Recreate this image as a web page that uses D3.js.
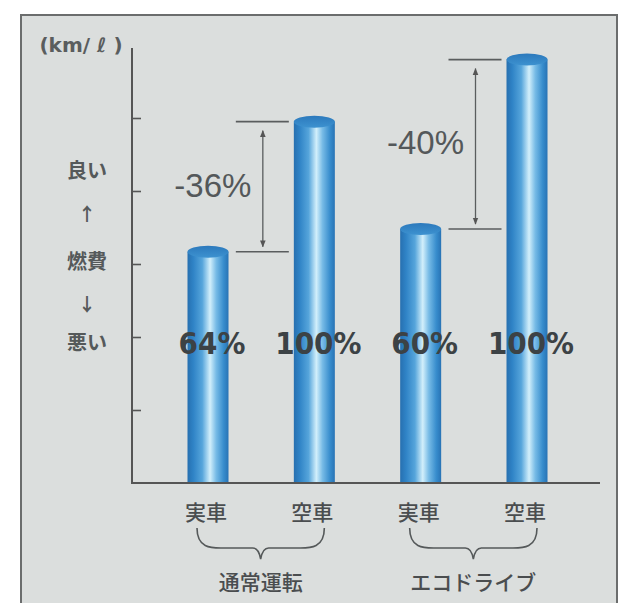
<!DOCTYPE html>
<html>
<head>
<meta charset="utf-8">
<script src="https://cdn.jsdelivr.net/npm/d3@7"></script>
<style>
  html, body { margin: 0; padding: 0; background: #ffffff; }
  svg { display: block; }
</style>
</head>
<body>
<svg id="chart" width="633" height="603"></svg>
<script>
// Fuel economy: loaded vs. empty truck, normal driving vs. eco-driving
const barIds      = ["a", "b", "c", "d"];
const barLoads    = ["実車", "空車", "実車", "空車"];
const barGroupIdx = [0, 0, 1, 1];
const barPercents = [64, 100, 60, 100];          // relative to the empty truck
const groupNames  = ["通常運転", "エコドライブ"];
const groupEmptyValues = [4.95, 5.8];            // km/ℓ scale units for 空車
const yTicks      = [1, 2, 3, 4, 5];
const yDomain     = [0, 6];
const sideLabels  = ["良い", "↑", "燃費", "↓", "悪い"];
const unitLabel   = "(km/ ℓ )";

const barValues = barPercents.map((p, i) => groupEmptyValues[barGroupIdx[i]] * p / 100);

const svg = d3.select("#chart");
const defs = svg.append("defs");

// panel
svg.append("rect")
  .attr("x", 21).attr("y", 15).attr("width", 596).attr("height", 600)
  .attr("fill", "#dbdedd").attr("stroke", "#6b6d6d").attr("stroke-width", 2);

const axisX = 132, baseY = 483, topY = 45, rightX = 600;
const y = d3.scaleLinear().domain(yDomain).range([baseY, topY]);
const x = d3.scalePoint().domain(barIds).range([208, 527]);
const barW = 41, capRy = 6;

// cylinder body gradient
const g = defs.append("linearGradient").attr("id", "cyl").attr("x1", 0).attr("x2", 1).attr("y1", 0).attr("y2", 0);
[[0, "#2770b0"], [0.14, "#2f83c6"], [0.36, "#56a5db"], [0.55, "#d2effb"], [0.7, "#77bbe6"], [0.88, "#388dcd"], [1, "#2873b5"]]
  .forEach(([o, c]) => g.append("stop").attr("offset", o).attr("stop-color", c));
const gc = defs.append("linearGradient").attr("id", "cap").attr("x1", 0).attr("x2", 0).attr("y1", 0).attr("y2", 1);
[[0, "#2c79bc"], [1, "#3d92d0"]].forEach(([o, c]) => gc.append("stop").attr("offset", o).attr("stop-color", c));

// axes
const yAxis = d3.axisRight(y).tickValues(yTicks).tickSize(9).tickFormat("");
const axG = svg.append("g").attr("transform", `translate(${axisX},0)`).call(yAxis);
axG.select(".domain").remove();
axG.selectAll(".tick line").attr("stroke", "#555").attr("stroke-width", 1.6);

svg.append("line").attr("x1", axisX).attr("x2", axisX).attr("y1", 48).attr("y2", baseY + 1)
  .attr("stroke", "#555").attr("stroke-width", 2);
svg.append("line").attr("x1", axisX - 1).attr("x2", rightX).attr("y1", baseY).attr("y2", baseY)
  .attr("stroke", "#555").attr("stroke-width", 2);

// unit
svg.append("text").attr("x", 81).attr("y", 52).attr("text-anchor", "middle")
  .attr("font-family", "'DejaVu Sans', sans-serif").attr("font-weight", "bold")
  .attr("font-size", 20).attr("fill", "#5a5d5e").text(unitLabel);

// side labels
const sideY = [171, 215, 262, 305, 343];
svg.selectAll("text.side").data(sideLabels).join("text")
  .attr("class", "side")
  .attr("x", 87).attr("y", (d, i) => sideY[i])
  .attr("dy", "0.36em").attr("text-anchor", "middle")
  .attr("font-family", "'Noto Sans CJK JP', sans-serif").attr("font-weight", 700)
  .attr("font-size", (d, i) => (i % 2 ? 18 : 20)).attr("fill", "#55595a")
  .text(d => d);

// bars
const bars = svg.append("g");
barIds.forEach((id, i) => {
  const cx = x(id), top = y(barValues[i]);
  bars.append("rect").attr("x", cx - barW / 2).attr("y", top).attr("width", barW).attr("height", baseY - top - 1)
    .attr("fill", "url(#cyl)");
  bars.append("ellipse").attr("cx", cx).attr("cy", top).attr("rx", barW / 2).attr("ry", capRy)
    .attr("fill", "url(#cap)");
});

// percent labels on bars
svg.selectAll("text.pct").data(barPercents).join("text")
  .attr("class", "pct")
  .attr("x", (d, i) => x(barIds[i]) + 4).attr("y", 343).attr("dy", "0.36em")
  .attr("text-anchor", "middle")
  .attr("font-family", "'DejaVu Sans Condensed', 'DejaVu Sans', sans-serif").attr("font-weight", "bold")
  .attr("font-size", 31).attr("fill", "#3c4245")
  .text(d => d + "%");

// difference annotations
defs.append("marker").attr("id", "ah").attr("viewBox", "0 0 10 10").attr("refX", 9).attr("refY", 5)
  .attr("markerWidth", 7).attr("markerHeight", 7).attr("orient", "auto-start-reverse")
  .attr("markerUnits", "userSpaceOnUse")
  .append("path").attr("d", "M0,1 L10,5 L0,9 Z").attr("fill", "#555");

groupNames.forEach((name, gi) => {
  const iEmpty = barIds.findIndex((d, i) => barGroupIdx[i] === gi && barPercents[i] === 100);
  const iLoad  = barIds.findIndex((d, i) => barGroupIdx[i] === gi && barPercents[i] !== 100);
  const bx = x(barIds[iEmpty]) - barW / 2;
  const yHi = y(barValues[iEmpty]), yLo = y(barValues[iLoad]);
  const ann = svg.append("g").attr("stroke", "#5a5d5e").attr("stroke-width", 1.6);
  ann.append("line").attr("x1", bx - 58).attr("x2", bx - 5).attr("y1", yHi).attr("y2", yHi);
  ann.append("line").attr("x1", bx - 58).attr("x2", bx - 5).attr("y1", yLo).attr("y2", yLo);
  const ax = bx - 31;
  ann.append("line").attr("x1", ax).attr("x2", ax).attr("y1", yHi + 9).attr("y2", yLo - 5)
    .attr("stroke-width", 1.3)
    .attr("marker-start", "url(#ah)").attr("marker-end", "url(#ah)");
  const diff = barPercents[iLoad] - barPercents[iEmpty];
  svg.append("text").attr("x", ax - 50).attr("y", (yHi + yLo) / 2 - 2).attr("dy", "0.36em")
    .attr("text-anchor", "middle")
    .attr("font-family", "'Liberation Sans', Arial, sans-serif")
    .attr("font-size", 33).attr("fill", "#54585a")
    .text((diff < 0 ? "-" : "+") + Math.abs(diff) + "%");
});

// category labels
svg.selectAll("text.cat").data(barLoads).join("text")
  .attr("class", "cat")
  .attr("x", (d, i) => x(barIds[i]) - 2).attr("y", 512).attr("dy", "0.36em")
  .attr("text-anchor", "middle")
  .attr("font-family", "'Noto Sans CJK JP', sans-serif").attr("font-weight", 500)
  .attr("font-size", 21).attr("fill", "#4a4d4f")
  .text(d => d);

// group braces and names
groupNames.forEach((name, gi) => {
  const idx = barIds.filter((d, i) => barGroupIdx[i] === gi);
  const x0 = x(idx[0]) - 11, x1 = x(idx[1]) + 10, xm = (x0 + x1) / 2;
  const yT = 528, yB = 548, yV = 559;
  const p = d3.path();
  p.moveTo(x0, yT);
  p.bezierCurveTo(x0, yB, x0 + 14, yB, x0 + 24, yB);
  p.lineTo(xm - 8, yB);
  p.quadraticCurveTo(xm - 2, yB, xm, yV);
  p.quadraticCurveTo(xm + 2, yB, xm + 8, yB);
  p.lineTo(x1 - 24, yB);
  p.bezierCurveTo(x1 - 14, yB, x1, yB, x1, yT);
  svg.append("path").attr("d", p.toString()).attr("fill", "none")
    .attr("stroke", "#55595a").attr("stroke-width", 1.6);
  svg.append("text").attr("x", xm).attr("y", 582).attr("dy", "0.36em")
    .attr("text-anchor", "middle")
    .attr("font-family", "'Noto Sans CJK JP', sans-serif").attr("font-weight", 500)
    .attr("font-size", 21).attr("fill", "#4a4d4f")
    .text(name);
});
</script>
</body>
</html>
